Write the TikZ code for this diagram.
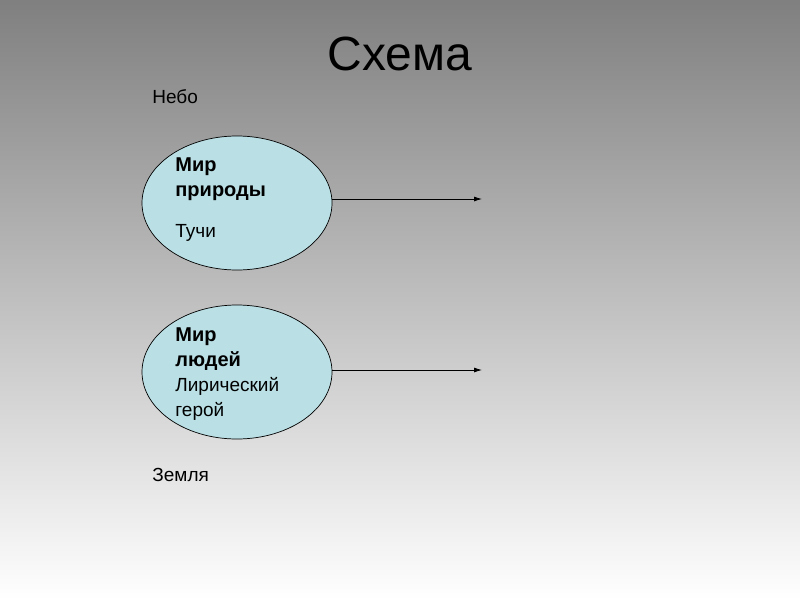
\documentclass[tikz,border=0pt]{standalone}
\usepackage{fontspec}
\setmainfont{Liberation Sans}
\usetikzlibrary{
	arrows.meta,
	shapes.geometric,
	positioning,
}
\definecolor{worldfill}{RGB}{186,224,229}
\tikzset{world/.style={
		% The shape:
		ellipse,
		% The size:
		minimum width=190pt,minimum height=134pt,
		% The border:
		draw=black,line width=0.7pt,
		% The filling:
		fill=worldfill,
}}
\tikzset{label/.style={
		% plain text on the slide
		inner sep=0pt,anchor=base west,align=left,
		font=\fontsize{19}{25}\selectfont,
}}
\tikzset{block/.style={
		% text in several lines, placed by its top edge
		label,anchor=north west,
}}
\newcommand{\headline}[1]{{\fontsize{20}{25}\selectfont\bfseries #1}}

\begin{document}
\begin{tikzpicture}[x=1pt,y=-1pt,>={Latex[length=8pt,width=5pt]},line width=0.8pt]
	% background
	\shade[top color=black!50,bottom color=white] (0,0) rectangle (800,600);
	\useasboundingbox (0,0) rectangle (800,600);
	\node (title) [inner sep=0pt,anchor=base,font=\fontsize{48}{50}\selectfont] at (400,70) {Схема};
	\node (sky) [label] at (152,103) {Небо};
	\node (earth) [label] at (152,481) {Земля};
	% the two worlds
	\node (nature) [world] at (237,203) {};
	\node (people) [world] at (237,372) {};
	\node (naturetext) [block] at (175,157.7) {\headline{Мир}\\\headline{природы}};
	\node (clouds) [label] at (175,237) {Тучи};
	\node (peopletext) [block] at (175,327.7) {\headline{Мир}\\\headline{людей}\\Лирический\\герой};
	\coordinate (natureend) at (482,199);
	\coordinate (peopleend) at (482,370);
	\draw [->] (nature.east |- natureend) -- (natureend);
	\draw [->] (people.east |- peopleend) -- (peopleend);
\end{tikzpicture}
\end{document}
